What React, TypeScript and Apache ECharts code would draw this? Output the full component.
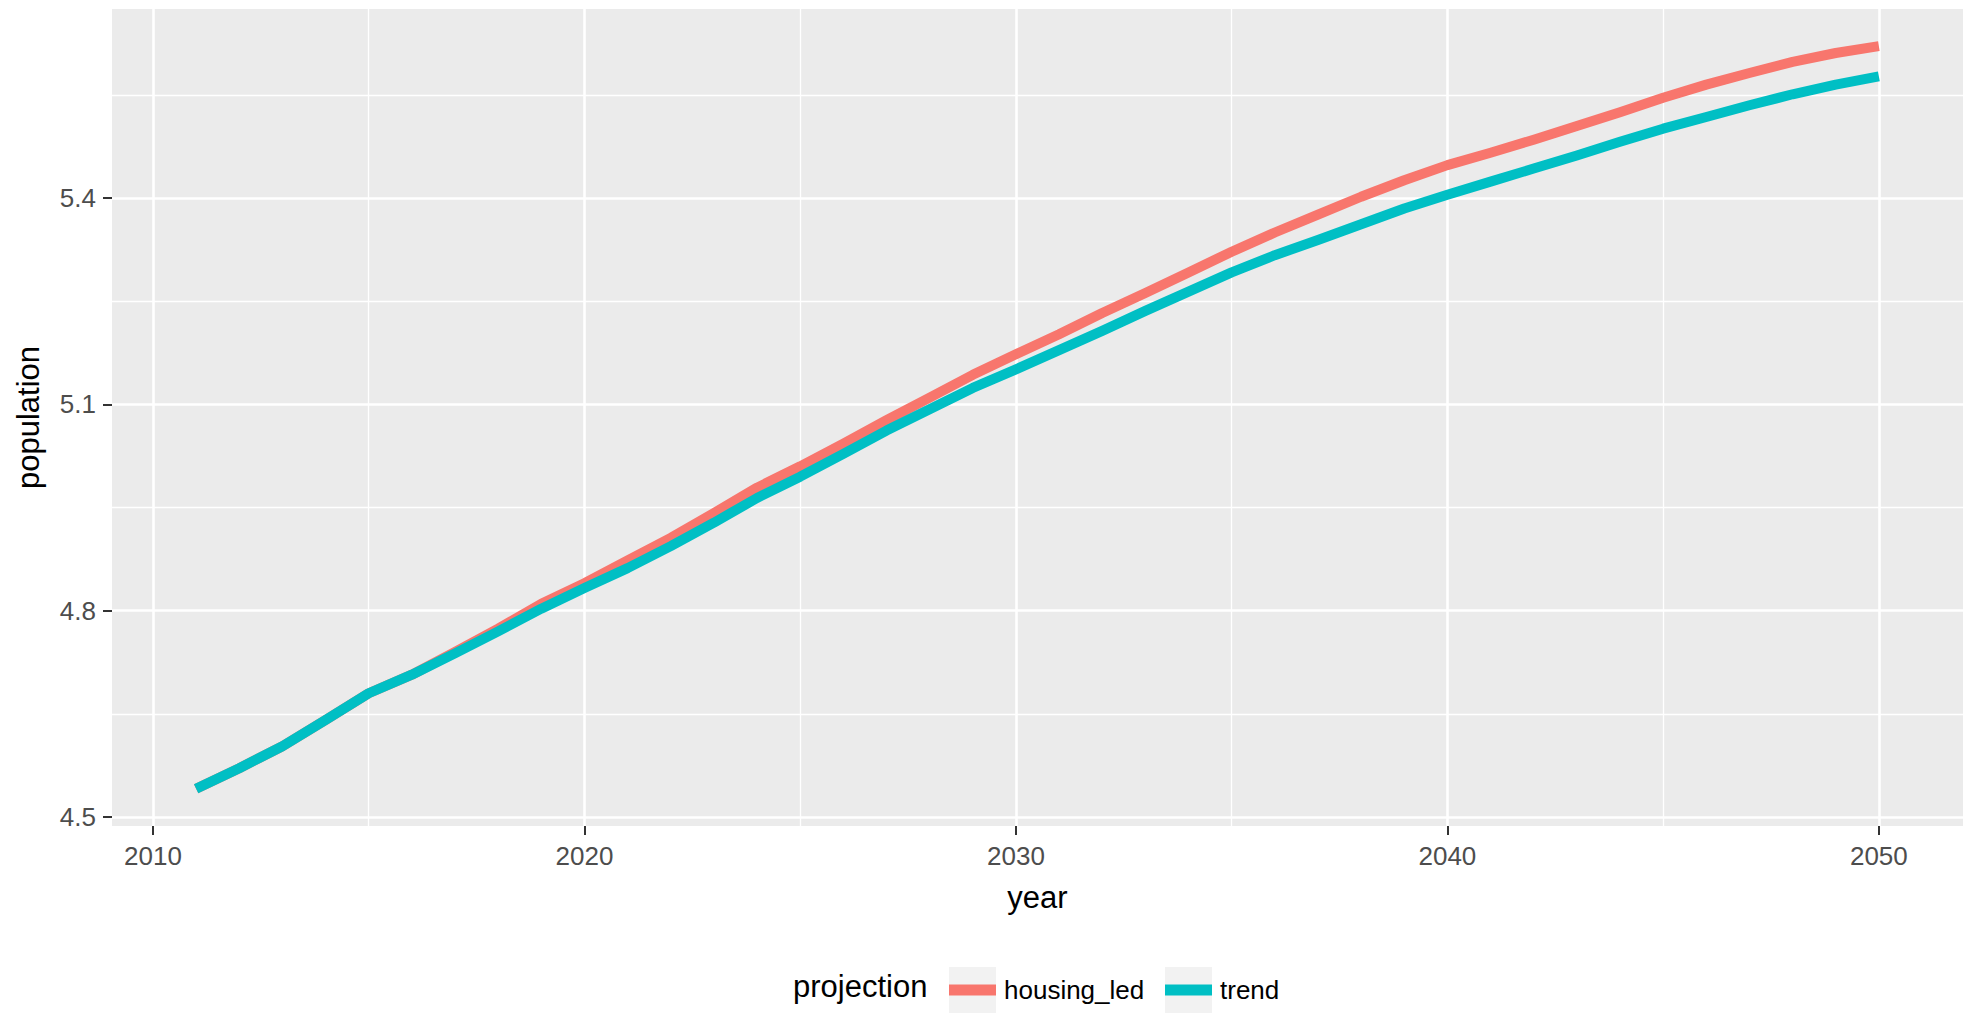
import React, { useEffect, useRef } from "react";
import * as echarts from "echarts";

const years = [
  2011, 2012, 2013, 2014, 2015, 2016, 2017, 2018, 2019, 2020,
  2021, 2022, 2023, 2024, 2025, 2026, 2027, 2028, 2029, 2030,
  2031, 2032, 2033, 2034, 2035, 2036, 2037, 2038, 2039, 2040,
  2041, 2042, 2043, 2044, 2045, 2046, 2047, 2048, 2049, 2050,
];

const housingLed = [
  4.541, 4.571, 4.603, 4.641, 4.68, 4.707, 4.74, 4.774, 4.81, 4.84,
  4.873, 4.906, 4.942, 4.979, 5.01, 5.043, 5.077, 5.11, 5.143, 5.173,
  5.202, 5.233, 5.262, 5.292, 5.322, 5.35, 5.376, 5.402, 5.426, 5.448,
  5.466, 5.485, 5.505, 5.525, 5.546, 5.565, 5.582, 5.598, 5.611, 5.621,
];

const trend = [
  4.541, 4.571, 4.603, 4.641, 4.68, 4.707, 4.738, 4.77, 4.803, 4.833,
  4.862, 4.894, 4.928, 4.964, 4.995, 5.028, 5.062, 5.093, 5.124, 5.151,
  5.179, 5.207, 5.236, 5.264, 5.292, 5.317, 5.339, 5.362, 5.385, 5.405,
  5.424, 5.443, 5.462, 5.482, 5.501, 5.518, 5.535, 5.551, 5.565, 5.577,
];

const seriesNames = ["housing_led", "trend"];
const seriesColors = ["#F8766D", "#00BFC4"];
const legendTitle = "projection";
const xTitle = "year";
const yTitle = "population";

const xMajorTicks = [2010, 2020, 2030, 2040, 2050];
const xMinorTicks = [2015, 2025, 2035, 2045];
const yMajorTicks = [4.5, 4.8, 5.1, 5.4];
const yMinorTicks = [4.65, 4.95, 5.25, 5.55];

const FONT = '"Liberation Sans", Arial, Helvetica, sans-serif';

function expand(vals: number[]) {
  const lo = Math.min(...vals);
  const hi = Math.max(...vals);
  const r = hi - lo;
  return [lo - r * 0.05, hi + r * 0.05];
}

export default function App() {
  const ref = useRef<HTMLDivElement>(null);

  useEffect(() => {
    if (!ref.current) return;
    const chart = echarts.init(ref.current, null, { renderer: "svg" });
    const [xMin, xMax] = expand(years);
    const [yMin, yMax] = expand([...housingLed, ...trend]);

    const tickStyle = { color: "#333333", width: 2 };
    const majorGrid = { show: true, lineStyle: { color: "#FFFFFF", width: 2.6 } };
    const minorGrid = { show: true, lineStyle: { color: "#FFFFFF", width: 1.3 } };

    const keyX = [949, 1165];
    const keySize = 47;
    const legendY = 990;
    const legendLine = 30;

    chart.setOption({
      animation: false,
      backgroundColor: "#FFFFFF",
      textStyle: { fontFamily: FONT },
      grid: {
        left: 112,
        right: 5,
        top: 9,
        bottom: 187,
        show: true,
        backgroundColor: "#EBEBEB",
        borderWidth: 0,
      },
      xAxis: [
        {
          type: "value",
          min: xMin,
          max: xMax,
          name: xTitle,
          nameLocation: "middle",
          nameGap: 56,
          nameTextStyle: { fontSize: 31, color: "#000000", fontFamily: FONT },
          axisLine: { show: false, onZero: false },
          axisTick: { show: true, customValues: xMajorTicks, length: 9, lineStyle: tickStyle },
          axisLabel: {
            customValues: xMajorTicks,
            fontSize: 26,
            color: "#4D4D4D",
            margin: 17,
            fontFamily: FONT,
            formatter: (v: number) => String(Math.round(v)),
          },
          splitLine: majorGrid,
          z: 1,
        },
        {
          type: "value",
          min: xMin,
          max: xMax,
          position: "bottom",
          axisLine: { show: false, onZero: false },
          axisTick: { show: false, customValues: xMinorTicks },
          axisLabel: { show: false, customValues: xMinorTicks },
          splitLine: minorGrid,
          z: 0,
        },
      ],
      yAxis: [
        {
          type: "value",
          min: yMin,
          max: yMax,
          name: yTitle,
          nameLocation: "middle",
          nameGap: 68,
          nameRotate: 90,
          nameTextStyle: { fontSize: 31, color: "#000000", fontFamily: FONT },
          axisLine: { show: false, onZero: false },
          axisTick: { show: true, customValues: yMajorTicks, length: 9, lineStyle: tickStyle },
          axisLabel: {
            customValues: yMajorTicks,
            fontSize: 26,
            color: "#4D4D4D",
            margin: 16,
            fontFamily: FONT,
            formatter: (v: number) => v.toFixed(1),
          },
          splitLine: majorGrid,
          z: 1,
        },
        {
          type: "value",
          min: yMin,
          max: yMax,
          position: "left",
          axisLine: { show: false, onZero: false },
          axisTick: { show: false, customValues: yMinorTicks },
          axisLabel: { show: false, customValues: yMinorTicks },
          splitLine: minorGrid,
          z: 0,
        },
      ],
      legend: seriesNames.map((n, i) => ({
        data: [n],
        left: keyX[i],
        top: legendY - legendLine / 2,
        padding: 0,
        icon: "rect",
        itemWidth: keySize,
        itemHeight: 11,
        selectedMode: false,
        textStyle: {
          fontSize: 26,
          lineHeight: legendLine,
          color: "#000000",
          fontFamily: FONT,
          padding: [0, 0, 0, 3],
        },
      })),
      graphic: [
        {
          type: "text",
          left: 793,
          top: legendY - 19,
          style: { text: legendTitle, fontSize: 31, fill: "#000000", font: `31px ${FONT}` },
        },
        ...keyX.map((x) => ({
          type: "rect",
          shape: { x, y: legendY - 23, width: keySize, height: 47 },
          style: { fill: "#F2F2F2" },
          z: -1,
        })),
      ],
      series: seriesNames.map((n, i) => ({
        name: n,
        type: "line",
        xAxisIndex: 0,
        yAxisIndex: 0,
        showSymbol: false,
        symbol: "none",
        color: seriesColors[i],
        lineStyle: { width: 10, color: seriesColors[i], cap: "butt", join: "round" },
        data: years.map((y, j) => [y, i === 0 ? housingLed[j] : trend[j]]),
        z: 2 + i,
      })),
    });

    return () => chart.dispose();
  }, []);

  return (
    <div
      ref={ref}
      style={{ position: "absolute", left: 0, top: 0, width: 1968, height: 1013 }}
    />
  );
}
